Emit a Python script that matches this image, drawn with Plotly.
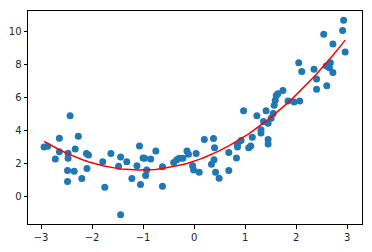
import numpy as np
import plotly.graph_objects as go

x_vals = [-2.43, -2.64, -2.27, -2.94, -2.87, -2.64, -2.47, -2.33, -2.47, -2.72,
          -2.11, -2.07, -2.48, -2.35, -2.10, -2.20, -2.48,
          -1.07, -1.63, -1.79, -1.44, -1.32, -1.48, -1.00, -0.97, -0.85, -0.75,
          -1.12, -0.93, -0.95, -1.22, -1.05, -1.75, -0.62, -0.62, -1.44,
          -0.40, -0.34, -0.29, -0.22, -0.14, -0.11, 0.04, -0.03, -0.01, 0.10,
          0.20, 0.38, 0.40, 0.39, 0.34, 0.42, 0.49, 0.68, 0.68,
          0.83, 0.85, 0.85, 0.92, 0.97, 1.07, 1.11, 1.14, 1.23, 1.31, 1.31,
          1.36, 1.41, 1.45, 1.45, 1.45, 1.51, 1.55, 1.57, 1.59, 1.61, 1.64,
          1.74, 1.84, 1.96, 2.07,
          2.05, 2.11, 2.35, 2.40, 2.40, 2.60, 2.59, 2.67, 2.65, 2.72,
          2.93, 2.91, 2.54, 2.72, 2.96]
y_vals = [4.92, 3.55, 3.67, 3.02, 3.07, 2.74, 2.64, 2.90, 2.34, 2.30,
          2.62, 2.54, 1.59, 1.55, 1.71, 1.11, 0.93,
          3.08, 2.62, 2.12, 2.42, 2.12, 1.85, 2.36, 2.34, 2.30, 2.78,
          1.89, 1.63, 1.29, 1.11, 0.75, 0.58, 1.83, 0.64, -1.09,
          2.08, 2.24, 2.34, 2.34, 2.78, 2.58, 2.62, 1.89, 1.63, 1.49,
          3.47, 3.53, 2.98, 2.24, 1.98, 1.49, 1.13, 2.68, 1.59,
          2.36, 3.02, 3.17, 3.41, 5.22, 2.98, 3.08, 3.61, 4.92, 4.07, 3.87,
          4.56, 5.22, 3.47, 3.21, 4.46, 4.76, 5.06, 5.56, 5.85, 6.15, 6.25,
          6.45, 5.81, 5.75, 5.81,
          8.13, 7.60, 7.74, 7.14, 6.53, 6.73, 7.94, 8.13, 7.83, 7.54,
          10.71, 10.08, 9.86, 9.27, 8.79]

# quadratic model coefficients (a*x^2 + b*x + c)
fit_coef = [0.49, 1.03, 2.16]

x_ticks = [-3, -2, -1, 0, 1, 2, 3]
y_ticks = [0, 2, 4, 6, 8, 10]

xs = np.sort(np.array(x_vals))
ys = np.polyval(fit_coef, xs)

fig = go.Figure()
fig.add_trace(go.Scatter(x=x_vals, y=y_vals, mode="markers",
                         marker=dict(color="#1f77b4", size=7, line=dict(width=0)),
                         showlegend=False))
fig.add_trace(go.Scatter(x=xs, y=ys, mode="lines",
                         line=dict(color="red", width=1.5), showlegend=False))

axis_common = dict(showline=True, linecolor="black", linewidth=1, mirror=True,
                   ticks="outside", ticklen=3.5, tickwidth=1, tickcolor="black",
                   showgrid=False, zeroline=False,
                   tickfont=dict(family="DejaVu Sans", size=10, color="#262626"))
fig.update_xaxes(range=[-3.255, 3.29], tickvals=x_ticks, **axis_common)
fig.update_yaxes(range=[-1.65, 11.27], tickvals=y_ticks, **axis_common)
fig.update_layout(width=372, height=252,
                  margin=dict(l=27, r=9, t=11, b=24),
                  paper_bgcolor="white", plot_bgcolor="white")
fig.write_html("out.html")
